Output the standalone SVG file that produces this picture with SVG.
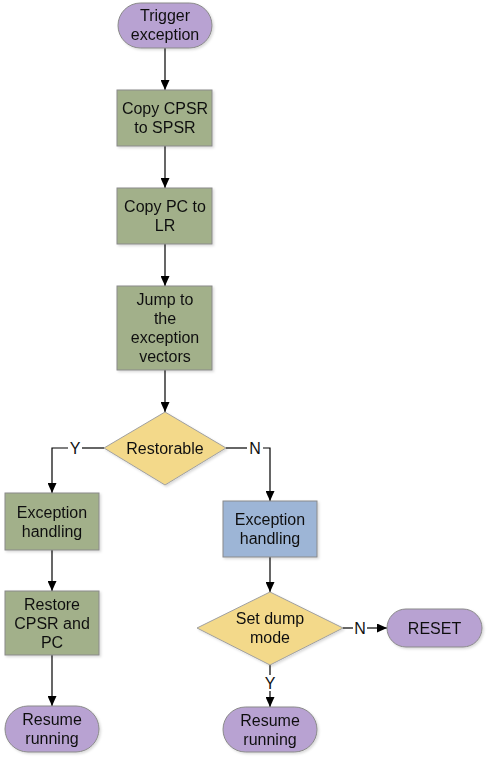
<svg xmlns="http://www.w3.org/2000/svg" width="487" height="760" viewBox="0 0 487 760">
<style>
text{font-family:"Liberation Sans",Arial,sans-serif;font-size:16px;fill:#111;text-anchor:middle}
.g{fill:#A2B08A;stroke:#8A8A8A;stroke-width:1}
.p{fill:#B8A2D2;stroke:#8A8A8A;stroke-width:1}
.y{fill:#F3D98A;stroke:#A0A0A0;stroke-width:1}
.b{fill:#9DB5D6;stroke:#8A8A8A;stroke-width:1}
.c{fill:none;stroke:#000;stroke-width:1.2}
.a{marker-end:url(#ah)}
</style>
<defs>
<marker id="ah" markerWidth="10" markerHeight="9" refX="10" refY="4.5" orient="auto" markerUnits="userSpaceOnUse">
<path d="M0,0 L10,4.5 L0,9 z" fill="#000"/>
</marker>
<filter id="sh" x="-10%" y="-10%" width="130%" height="130%">
<feDropShadow dx="1.5" dy="1.5" stdDeviation="1" flood-color="#000" flood-opacity="0.15"/>
</filter>
</defs>
<rect width="487" height="760" fill="#fff"/>
<g id="connectors">
<path class="c a" d="M165,48 V90"/>
<path class="c a" d="M165,146 V188"/>
<path class="c a" d="M165,244 V286"/>
<path class="c a" d="M165,370 V412"/>
<path class="c" d="M104,448 H82"/>
<path class="c a" d="M68,448 H52 V493"/>
<text x="75" y="454">Y</text>
<path class="c" d="M226,448 H247"/>
<path class="c a" d="M263,448 H270 V501"/>
<text x="255" y="454">N</text>
<path class="c a" d="M52,550 V591"/>
<path class="c a" d="M52,655 V706"/>
<path class="c a" d="M270,557 V592"/>
<path class="c" d="M343,628 H353"/>
<path class="c a" d="M367,628 H387"/>
<text x="360" y="634">N</text>
<path class="c" d="M270,665 V675"/>
<path class="c a" d="M270,691 V707"/>
<text x="270" y="689">Y</text>
</g>
<g id="trigger" filter="url(#sh)">
<rect class="p" x="118" y="3" width="94" height="45" rx="22.5"/>
<text x="165" y="21">Trigger</text><text x="165" y="40">exception</text>
</g>
<g id="copycpsr" filter="url(#sh)">
<rect class="g" x="117" y="90" width="95" height="56"/>
<text x="165" y="114">Copy CPSR</text><text x="165" y="133">to SPSR</text>
</g>
<g id="copypc" filter="url(#sh)">
<rect class="g" x="117" y="188" width="95" height="56"/>
<text x="165" y="212">Copy PC to</text><text x="165" y="231">LR</text>
</g>
<g id="jump" filter="url(#sh)">
<rect class="g" x="117" y="286" width="95" height="84"/>
<text x="165" y="305">Jump to</text><text x="165" y="324">the</text><text x="165" y="343">exception</text><text x="165" y="362">vectors</text>
</g>
<g id="restorable" filter="url(#sh)">
<path class="y" d="M165,412 L226,448 L165,485 L104,448 z"/>
<text x="165" y="454">Restorable</text>
</g>
<g id="handlingY" filter="url(#sh)">
<rect class="g" x="5" y="493" width="94" height="57"/>
<text x="52" y="517.5">Exception</text><text x="52" y="536.5">handling</text>
</g>
<g id="restore" filter="url(#sh)">
<rect class="g" x="5" y="591" width="94" height="64"/>
<text x="52" y="609.5">Restore</text><text x="52" y="628.5">CPSR and</text><text x="52" y="647.5">PC</text>
</g>
<g id="resumeL" filter="url(#sh)">
<rect class="p" x="5" y="706" width="94" height="46" rx="23"/>
<text x="52" y="725">Resume</text><text x="52" y="744">running</text>
</g>
<g id="handlingN" filter="url(#sh)">
<rect class="b" x="223" y="501" width="94" height="56"/>
<text x="270" y="525">Exception</text><text x="270" y="544">handling</text>
</g>
<g id="dump" filter="url(#sh)">
<path class="y" d="M270,592 L343,628 L270,665 L197,628 z"/>
<text x="270" y="623.5">Set dump</text><text x="270" y="642.5">mode</text>
</g>
<g id="reset" filter="url(#sh)">
<rect class="p" x="387" y="609" width="95" height="38" rx="19"/>
<text x="434.5" y="634">RESET</text>
</g>
<g id="resumeR" filter="url(#sh)">
<rect class="p" x="223" y="707" width="94" height="45" rx="22.5"/>
<text x="270" y="725.5">Resume</text><text x="270" y="744.5">running</text>
</g>
</svg>
